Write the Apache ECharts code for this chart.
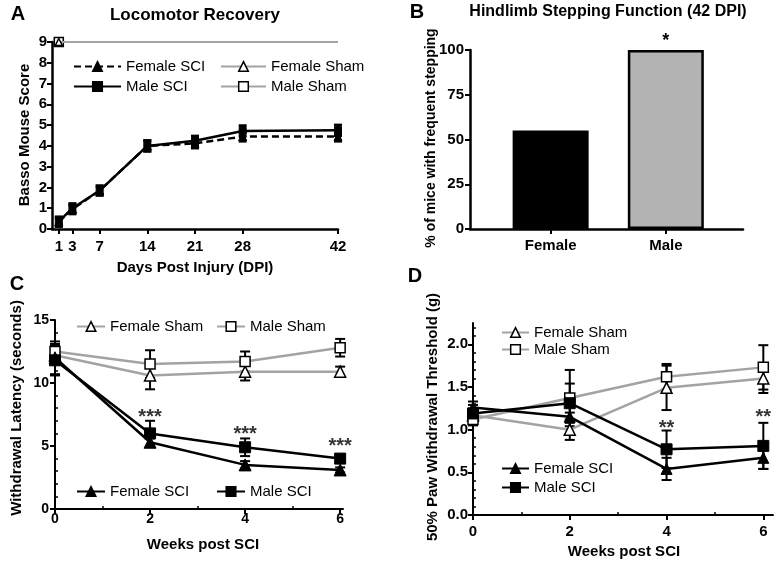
<!DOCTYPE html>
<html>
<head>
<meta charset="utf-8">
<script src="https://cdn.jsdelivr.net/npm/echarts@6/dist/echarts.min.js"></script>
<style>
  html, body { margin: 0; padding: 0; background: #fff; }
  #main { width: 777px; height: 561px; }
</style>
</head>
<body>
<div id="main"></div>
<script>
// Panel A - locomotor recovery (BMS score)
const daysA = [1, 3, 7, 14, 21, 28, 42];
const femaleSciA = [0.35, 0.95, 1.85, 4.0, 4.12, 4.45, 4.45];
const maleSciA = [0.35, 1.0, 1.85, 4.0, 4.25, 4.72, 4.75];
const femaleSciErrA = [0.22, 0.22, 0.22, 0.25, 0.22, 0.22, 0.22];
const maleSciErrA = [0.22, 0.22, 0.22, 0.25, 0.22, 0.25, 0.25];
const femaleShamA = [9, 9, 9, 9, 9, 9, 9];
const maleShamA = [9, 9, 9, 9, 9, 9, 9];
const ticksA = [0, 1, 2, 3, 4, 5, 6, 7, 8, 9];

// Panel B - stepping at 42 DPI
const categoriesB = ['Female', 'Male'];
const valuesB = [55, 100];
const ticksB = [0, 25, 50, 75, 100];

// Panel C - thermal withdrawal latency
const weeks = [0, 2, 4, 6];
const femaleShamC = [12.2, 10.6, 10.9, 10.9];
const femaleShamErrC = [0.6, 1.1, 0.7, 0.4];
const maleShamC = [12.5, 11.5, 11.7, 12.8];
const maleShamErrC = [0.6, 1.1, 0.8, 0.7];
const femaleSciC = [12.0, 5.3, 3.5, 3.1];
const femaleSciErrC = [1.3, 0.3, 0.3, 0.2];
const maleSciC = [11.8, 6.0, 4.9, 4.0];
const maleSciErrC = [1.2, 1.0, 0.7, 0.3];
const starsC = ['***', '***', '***'];
const starPosC = [7.3, 5.9, 5.0];
const ticksC = [0, 5, 10, 15];

// Panel D - mechanical threshold
const femaleShamD = [1.17, 1.00, 1.49, 1.60];
const femaleShamErrD = [0.08, 0.12, 0.26, 0.17];
const maleShamD = [1.12, 1.37, 1.62, 1.73];
const maleShamErrD = [0.07, 0.33, 0.15, 0.26];
const femaleSciD = [1.26, 1.15, 0.54, 0.67];
const femaleSciErrD = [0.07, 0.05, 0.13, 0.13];
const maleSciD = [1.19, 1.31, 0.77, 0.81];
const maleSciErrD = [0.1, 0.23, 0.22, 0.27];
const starsD = ['**', '**'];
const starPosD = [1.01, 1.14];
const ticksD = [0, 0.5, 1.0, 1.5, 2.0];

const FONT = '"Liberation Sans", Arial, sans-serif';
const GREY = '#a3a3a3';

const chart = echarts.init(document.getElementById('main'), null, { renderer: 'canvas' });

const lbl = (size) => ({ color: '#000', fontWeight: 'bold', fontSize: size || 14, fontFamily: FONT });
const axLine = (w) => ({ lineStyle: { color: '#000', width: w || 2 } });
const tick = (vals, len) => ({ customValues: vals, length: len || 5, lineStyle: { color: '#000', width: 2 } });

function minorAxis(grid, min, max, vals) {
  return {
    type: 'value', gridIndex: grid, min: min, max: max,
    axisLine: { show: false }, axisLabel: { show: false }, splitLine: { show: false },
    axisTick: { customValues: vals, length: 3, lineStyle: { color: '#000', width: 1.5 } }
  };
}

function errSeries(xi, xs, vals, errs, cap, lw) {
  return {
    type: 'custom', xAxisIndex: xi, yAxisIndex: xi, z: 1, silent: true,
    data: xs.map((x, i) => [x, vals[i] - errs[i], vals[i] + errs[i]]),
    renderItem: function (params, api) {
      const lo = api.coord([api.value(0), api.value(1)]);
      const hi = api.coord([api.value(0), api.value(2)]);
      const st = { stroke: '#000', lineWidth: lw };
      return {
        type: 'group', children: [
          { type: 'line', shape: { x1: lo[0], y1: lo[1], x2: hi[0], y2: hi[1] }, style: st },
          { type: 'line', shape: { x1: lo[0] - cap, y1: lo[1], x2: lo[0] + cap, y2: lo[1] }, style: st },
          { type: 'line', shape: { x1: hi[0] - cap, y1: hi[1], x2: hi[0] + cap, y2: hi[1] }, style: st }
        ]
      };
    }
  };
}

function lineSeries(name, xi, xs, vals, opt) {
  return {
    name: name, type: 'line', xAxisIndex: xi, yAxisIndex: xi, z: 3,
    data: xs.map((x, i) => [x, vals[i]]),
    symbol: opt.symbol, symbolSize: opt.size,
    lineStyle: { color: opt.line, width: opt.width || 2.5, type: opt.dash || 'solid' },
    itemStyle: opt.open
      ? { color: '#fff', borderColor: '#000', borderWidth: 1.5 }
      : { color: '#000', borderColor: '#000', borderWidth: 1 }
  };
}

function legendAt(name, left, top, w) {
  return {
    data: [name], left: left, top: top, padding: 0, itemWidth: w, itemHeight: 12,
    selectedMode: false, formatter: (n) => n.split('|')[0],
    itemStyle: { borderWidth: 1.5 },
    textStyle: { fontSize: 15, color: '#000', fontFamily: FONT }
  };
}

function starSeries(xi, xs, ys, texts) {
  return {
    type: 'scatter', xAxisIndex: xi, yAxisIndex: xi, z: 4, silent: true,
    symbolSize: 1, itemStyle: { color: 'rgba(0,0,0,0)' },
    data: xs.map((x, i) => [x, ys[i], texts[i]]),
    label: { show: true, position: 'inside', formatter: (p) => p.value[2], color: '#000', fontSize: 20, fontWeight: 'bold', fontFamily: FONT }
  };
}

function txt(text, x, y, size, rot) {
  return {
    type: 'text', x: x, y: y, rotation: rot ? Math.PI / 2 : 0,
    style: { text: text, font: 'bold ' + size + 'px ' + FONT, fill: '#000',
      align: 'center', verticalAlign: 'middle', textAlign: 'center', textVerticalAlign: 'middle' }
  };
}

const option = {
  animation: false,
  backgroundColor: '#fff',
  grid: [
    { left: 52, top: 42, width: 286, height: 187 },
    { left: 470, top: 50, width: 273, height: 179 },
    { left: 55, top: 320, width: 288, height: 189 },
    { left: 473, top: 323, width: 300, height: 192 }
  ],
  xAxis: [
    { type: 'value', gridIndex: 0, min: 0, max: 42, axisLine: axLine(2.5), splitLine: { show: false },
      axisTick: tick(daysA), axisLabel: Object.assign({ customValues: daysA, margin: 10 }, lbl(15)) },
    { type: 'value', gridIndex: 1, min: 0.3, max: 2.67, axisLine: axLine(2.5), splitLine: { show: false },
      axisTick: tick([1, 2]),
      axisLabel: Object.assign({ customValues: [1, 2], margin: 9, formatter: (v) => categoriesB[Math.round(v) - 1] }, lbl(15)) },
    { type: 'value', gridIndex: 2, min: 0, max: 6.06, axisLine: axLine(2), splitLine: { show: false },
      axisTick: tick(weeks), axisLabel: Object.assign({ customValues: weeks, margin: 3 }, lbl(14)) },
    { type: 'value', gridIndex: 3, min: 0, max: 6.2, axisLine: axLine(2), splitLine: { show: false },
      axisTick: tick(weeks), axisLabel: Object.assign({ customValues: weeks, margin: 9 }, lbl(15)) },
    minorAxis(2, 0, 6.06, [1, 3, 5]),
    minorAxis(3, 0, 6.2, [1, 3, 5])
  ],
  yAxis: [
    { type: 'value', gridIndex: 0, min: 0, max: 9, axisLine: axLine(2.5), splitLine: { show: false },
      axisTick: tick(ticksA), axisLabel: Object.assign({ customValues: ticksA, margin: 5 }, lbl(15)) },
    { type: 'value', gridIndex: 1, min: 0, max: 100, axisLine: axLine(2.5), splitLine: { show: false },
      axisTick: tick(ticksB), axisLabel: Object.assign({ customValues: ticksB, margin: 6 }, lbl(15)) },
    { type: 'value', gridIndex: 2, min: 0, max: 15, axisLine: axLine(2), splitLine: { show: false },
      axisTick: tick(ticksC), axisLabel: Object.assign({ customValues: ticksC, margin: 6 }, lbl(14)) },
    { type: 'value', gridIndex: 3, min: 0, max: 2.25, axisLine: axLine(2), splitLine: { show: false },
      axisTick: tick(ticksD), axisLabel: Object.assign({ customValues: ticksD, margin: 5, formatter: (v) => v.toFixed(1) }, lbl(15)) },
    minorAxis(2, 0, 15, [1, 2, 3, 4, 6, 7, 8, 9, 11, 12, 13, 14]),
    minorAxis(3, 0, 2.25, [0.1, 0.2, 0.3, 0.4, 0.6, 0.7, 0.8, 0.9, 1.1, 1.2, 1.3, 1.4, 1.6, 1.7, 1.8, 1.9, 2.1, 2.2])
  ],
  legend: [
    legendAt('Female SCI|A', 73, 59, 47),
    legendAt('Male SCI|A', 73, 79, 47),
    legendAt('Female Sham|A', 220, 59, 45),
    legendAt('Male Sham|A', 220, 79, 45),
    legendAt('Female Sham|C', 76, 319, 28),
    legendAt('Male Sham|C', 216, 319, 28),
    legendAt('Female SCI|C', 76, 484, 28),
    legendAt('Male SCI|C', 216, 484, 28),
    legendAt('Female Sham|D', 501, 325, 27),
    legendAt('Male Sham|D', 501, 342, 27),
    legendAt('Female SCI|D', 501, 461, 27),
    legendAt('Male SCI|D', 501, 480, 27)
  ],
  graphic: [
    txt('A', 18, 14, 20), txt('Locomotor Recovery', 195, 15, 17),
    txt('Basso Mouse Score', 25, 135, 15, true), txt('Days Post Injury (DPI)', 195, 268, 15),
    txt('B', 417, 12, 20), txt('Hindlimb Stepping Function (42 DPI)', 608, 12, 16),
    txt('% of mice with frequent stepping', 431, 138, 14, true),
    txt('C', 17, 284, 20), txt('Withdrawal Latency (seconds)', 17, 408, 15, true),
    txt('Weeks post SCI', 203, 545, 15),
    txt('D', 415, 276, 20), txt('50% Paw Withdrawal Threshold (g)', 433, 417, 15, true),
    txt('Weeks post SCI', 624, 552, 15)
  ],
  series: [
    // A
    errSeries(0, daysA, femaleSciA, femaleSciErrA, 4, 3),
    errSeries(0, daysA, maleSciA, maleSciErrA, 4, 3),
    lineSeries('Female SCI|A', 0, daysA, femaleSciA, { symbol: 'triangle', size: 8, line: '#000', dash: [7, 4] }),
    lineSeries('Male SCI|A', 0, daysA, maleSciA, { symbol: 'rect', size: 7, line: '#000' }),
    Object.assign(lineSeries('Female Sham|A', 0, daysA, femaleShamA, { symbol: 'triangle', size: 7, line: GREY, width: 2, open: true }),
      { data: daysA.map((d, i) => i === 0 ? { value: [d, femaleShamA[i]] } : { value: [d, femaleShamA[i]], symbol: 'none' }), z: 4 }),
    Object.assign(lineSeries('Male Sham|A', 0, daysA, maleShamA, { symbol: 'rect', size: 9, line: GREY, width: 2, open: true }),
      { data: daysA.map((d, i) => i === 0 ? { value: [d, maleShamA[i]] } : { value: [d, maleShamA[i]], symbol: 'none' }) }),
    // B
    {
      type: 'bar', xAxisIndex: 1, yAxisIndex: 1, barWidth: 76,
      data: categoriesB.map((c, i) => ({
        value: [i + 1, valuesB[i]],
        itemStyle: i === 0 ? { color: '#000' } : { color: '#b3b3b3', borderColor: '#000', borderWidth: 2.5 },
        label: { show: i === 1, position: 'top', distance: 0, formatter: '*', color: '#000', fontSize: 18, fontWeight: 'bold', fontFamily: FONT }
      }))
    },
    // C
    errSeries(2, weeks, femaleShamC, femaleShamErrC, 5, 2),
    errSeries(2, weeks, maleShamC, maleShamErrC, 5, 2),
    errSeries(2, weeks, femaleSciC, femaleSciErrC, 5, 2),
    errSeries(2, weeks, maleSciC, maleSciErrC, 5, 2),
    lineSeries('Female Sham|C', 2, weeks, femaleShamC, { symbol: 'triangle', size: 11, line: GREY, open: true }),
    lineSeries('Male Sham|C', 2, weeks, maleShamC, { symbol: 'rect', size: 10, line: GREY, open: true }),
    lineSeries('Female SCI|C', 2, weeks, femaleSciC, { symbol: 'triangle', size: 12, line: '#000' }),
    lineSeries('Male SCI|C', 2, weeks, maleSciC, { symbol: 'rect', size: 11, line: '#000' }),
    starSeries(2, [2, 4, 6], starPosC, starsC),
    // D
    errSeries(3, weeks, femaleShamD, femaleShamErrD, 5, 2),
    errSeries(3, weeks, maleShamD, maleShamErrD, 5, 2),
    errSeries(3, weeks, femaleSciD, femaleSciErrD, 5, 2),
    errSeries(3, weeks, maleSciD, maleSciErrD, 5, 2),
    lineSeries('Female Sham|D', 3, weeks, femaleShamD, { symbol: 'triangle', size: 11, line: GREY, open: true }),
    lineSeries('Male Sham|D', 3, weeks, maleShamD, { symbol: 'rect', size: 10, line: GREY, open: true }),
    lineSeries('Female SCI|D', 3, weeks, femaleSciD, { symbol: 'triangle', size: 11, line: '#000' }),
    lineSeries('Male SCI|D', 3, weeks, maleSciD, { symbol: 'rect', size: 11, line: '#000' }),
    starSeries(3, [4, 6], starPosD, starsD)
  ]
};

chart.setOption(option);
</script>
</body>
</html>
